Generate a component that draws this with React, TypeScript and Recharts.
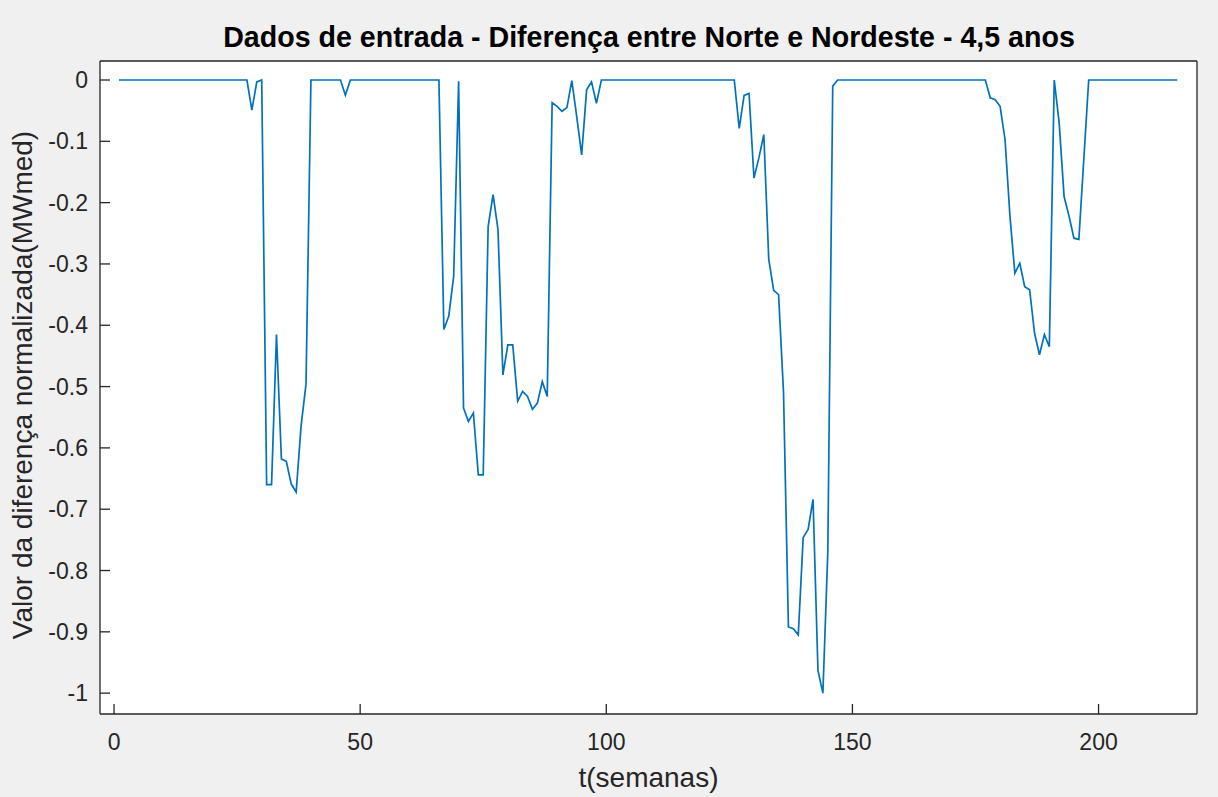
import { CartesianGrid, Label, Line, LineChart, XAxis, YAxis } from "recharts";

// semanas 1..216
const weeks = Array.from({ length: 216 }, (_, i) => i + 1);

// diferença normalizada Norte - Nordeste (10 semanas por linha)
const diff = [
  0, 0, 0, 0, 0, 0, 0, 0, 0, 0,
  0, 0, 0, 0, 0, 0, 0, 0, 0, 0,
  0, 0, 0, 0, 0, 0, 0, -0.049, -0.003, 0,
  -0.66, -0.66, -0.415, -0.618, -0.622, -0.659, -0.672, -0.564, -0.496, 0,
  0, 0, 0, 0, 0, 0, -0.025, 0, 0, 0,
  0, 0, 0, 0, 0, 0, 0, 0, 0, 0,
  0, 0, 0, 0, 0, 0, -0.407, -0.385, -0.32, -0.002,
  -0.535, -0.557, -0.543, -0.644, -0.644, -0.239, -0.187, -0.244, -0.481, -0.432,
  -0.432, -0.524, -0.508, -0.516, -0.537, -0.527, -0.492, -0.516, -0.037, -0.043,
  -0.051, -0.045, -0.001, -0.06, -0.122, -0.016, -0.003, -0.038, 0, 0,
  0, 0, 0, 0, 0, 0, 0, 0, 0, 0,
  0, 0, 0, 0, 0, 0, 0, 0, 0, 0,
  0, 0, 0, 0, 0, 0, -0.079, -0.025, -0.022, -0.16,
  -0.127, -0.089, -0.292, -0.343, -0.35, -0.509, -0.892, -0.895, -0.905, -0.746,
  -0.733, -0.684, -0.963, -1.0, -0.77, -0.01, 0, 0, 0, 0,
  0, 0, 0, 0, 0, 0, 0, 0, 0, 0,
  0, 0, 0, 0, 0, 0, 0, 0, 0, 0,
  0, 0, 0, 0, 0, 0, 0, -0.029, -0.032, -0.043,
  -0.097, -0.222, -0.315, -0.299, -0.337, -0.342, -0.413, -0.448, -0.415, -0.435,
  0, -0.07, -0.19, -0.222, -0.258, -0.26, -0.13, 0, 0, 0,
  0, 0, 0, 0, 0, 0, 0, 0, 0, 0,
  0, 0, 0, 0, 0, 0
];

const xTicks = [0, 50, 100, 150, 200];
const yTicks = [0, -0.1, -0.2, -0.3, -0.4, -0.5, -0.6, -0.7, -0.8, -0.9, -1];

const title = "Dados de entrada - Diferença entre Norte e Nordeste - 4,5 anos";
const xLabel = "t(semanas)";
const yLabel = "Valor da diferença normalizada(MWmed)";

const data = weeks.map((t, i) => ({ t, v: diff[i] }));

const axisColor = "#262626";
const xDomain: [number, number] = [-2.85, 220];
const yDomain: [number, number] = [-1.034, 0.031];

export default function App() {
  return (
    <div
      style={{
        position: "fixed",
        left: 0,
        top: 0,
        width: 1218,
        height: 797,
        background: "#f0f0f0",
        fontFamily: '"Liberation Sans", Arial, sans-serif'
      }}
    >
      <LineChart width={1218} height={797} data={data} margin={{ top: 0, right: 0, bottom: 0, left: 0 }}>
        <CartesianGrid xAxisId="b" yAxisId="l" horizontal={false} vertical={false} fill="#ffffff" />
        <XAxis
          xAxisId="b"
          dataKey="t"
          type="number"
          domain={xDomain}
          allowDataOverflow
          ticks={xTicks}
          orientation="bottom"
          height={83}
          tickSize={-10}
          tickMargin={30}
          axisLine={{ stroke: axisColor, strokeWidth: 1.3 }}
          tickLine={{ stroke: axisColor, strokeWidth: 1.3 }}
          tick={{ fontSize: 23, fill: axisColor }}
        >
          <Label
            content={() => (
              <text x={648.5} y={787} textAnchor="middle" fontSize={28} fill={axisColor}>
                {xLabel}
              </text>
            )}
          />
        </XAxis>
        <XAxis
          xAxisId="t"
          dataKey="t"
          type="number"
          domain={xDomain}
          allowDataOverflow
          ticks={xTicks}
          orientation="top"
          height={61}
          tickSize={-10}
          tick={false}
          axisLine={{ stroke: axisColor, strokeWidth: 1.3 }}
          tickLine={{ stroke: axisColor, strokeWidth: 1.3 }}
        >
          <Label
            content={() => (
              <text x={649} y={47} textAnchor="middle" fontSize={28.6} fontWeight="bold" fill="#000">
                {title}
              </text>
            )}
          />
        </XAxis>
        <YAxis
          yAxisId="l"
          type="number"
          domain={yDomain}
          allowDataOverflow
          ticks={yTicks}
          width={100}
          tickSize={-10}
          tickMargin={22}
          tickFormatter={(v: number) => String(v)}
          axisLine={{ stroke: axisColor, strokeWidth: 1.3 }}
          tickLine={{ stroke: axisColor, strokeWidth: 1.3 }}
          tick={{ fontSize: 23, fill: axisColor }}
        >
          <Label
            content={() => (
              <text
                x={22}
                y={385}
                transform="rotate(-90, 22, 385)"
                textAnchor="middle"
                dominantBaseline="central"
                fontSize={28}
                fill={axisColor}
              >
                {yLabel}
              </text>
            )}
          />
        </YAxis>
        <YAxis
          yAxisId="r"
          type="number"
          orientation="right"
          domain={yDomain}
          allowDataOverflow
          ticks={yTicks}
          width={21}
          tickSize={-10}
          tick={false}
          axisLine={{ stroke: axisColor, strokeWidth: 1.3 }}
          tickLine={{ stroke: axisColor, strokeWidth: 1.3 }}
        />
        <Line
          xAxisId="b"
          yAxisId="l"
          dataKey="v"
          type="linear"
          stroke="#0072bd"
          strokeWidth={1.7}
          dot={false}
          activeDot={false}
          isAnimationActive={false}
        />
      </LineChart>
    </div>
  );
}
